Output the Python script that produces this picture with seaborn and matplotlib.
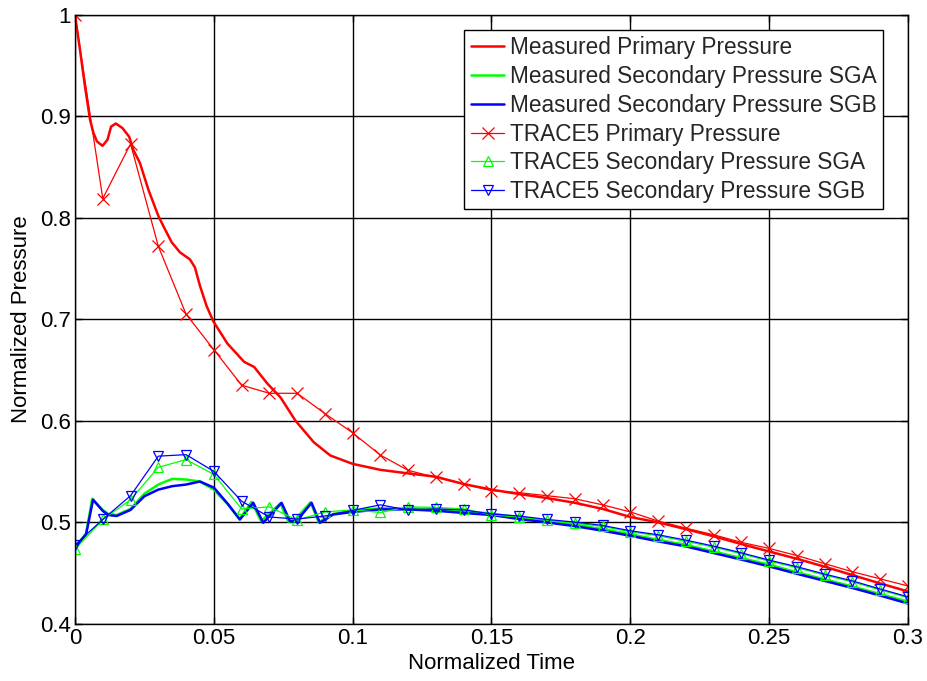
import numpy as np
import pandas as pd
import matplotlib
matplotlib.use("Agg")
import matplotlib.pyplot as plt
import seaborn as sns

# Measured primary pressure (continuous record)
meas_prim_t = [0, 0.0018, 0.0036, 0.0054, 0.0066, 0.0079, 0.0099, 0.0117, 0.013, 0.0147,
               0.0171, 0.0195, 0.021, 0.0234, 0.0264, 0.030, 0.0318, 0.0348, 0.0378, 0.0414,
               0.0432, 0.045, 0.0474, 0.0498, 0.0549, 0.0609, 0.0645, 0.0693, 0.0740, 0.0794,
               0.086, 0.092, 0.10, 0.11, 0.12, 0.13, 0.14, 0.15, 0.16, 0.17,
               0.18, 0.19, 0.20, 0.21, 0.22, 0.23, 0.24, 0.25, 0.26, 0.27,
               0.28, 0.29, 0.30]
meas_prim_p = [1.0, 0.9656, 0.9295, 0.897, 0.884, 0.8754, 0.871, 0.877, 0.890, 0.893,
               0.8885, 0.880, 0.867, 0.854, 0.828, 0.802, 0.792, 0.776, 0.766, 0.759,
               0.751, 0.733, 0.713, 0.698, 0.676, 0.658, 0.653, 0.6365, 0.623, 0.600,
               0.5787, 0.5656, 0.5574, 0.5515, 0.548, 0.5447, 0.5375, 0.532, 0.5276, 0.5237,
               0.519, 0.513, 0.505, 0.4997, 0.493, 0.486, 0.4783, 0.471, 0.4638, 0.456,
               0.4477, 0.4395, 0.4316]

# Measured secondary pressure, steam generator A
meas_sga_t = [0, 0.004, 0.0062, 0.01, 0.012, 0.015, 0.02, 0.025, 0.03, 0.035,
              0.04, 0.045, 0.05, 0.0522, 0.055, 0.0592, 0.0636, 0.0670, 0.0740, 0.0768,
              0.0790, 0.0848, 0.0878, 0.093, 0.10, 0.11, 0.12, 0.13, 0.14, 0.15,
              0.16, 0.17, 0.18, 0.19, 0.20, 0.21, 0.22, 0.23, 0.24, 0.25,
              0.26, 0.27, 0.28, 0.29, 0.30]
meas_sga_p = [0.474, 0.489, 0.523, 0.512, 0.508, 0.507, 0.513, 0.528, 0.537, 0.5426,
              0.542, 0.540, 0.532, 0.5255, 0.518, 0.5026, 0.520, 0.501, 0.5185, 0.5005,
              0.5015, 0.5195, 0.4998, 0.508, 0.5115, 0.5135, 0.5135, 0.5125, 0.5105, 0.5085,
              0.5045, 0.501, 0.4975, 0.493, 0.488, 0.4825, 0.4775, 0.471, 0.4645, 0.458,
              0.4505, 0.4435, 0.4365, 0.429, 0.4215]

# Measured secondary pressure, steam generator B
meas_sgb_t = [0, 0.004, 0.0065, 0.01, 0.012, 0.015, 0.02, 0.025, 0.03, 0.035,
              0.04, 0.045, 0.05, 0.0522, 0.055, 0.0594, 0.0642, 0.0678, 0.0744, 0.0774,
              0.0798, 0.0852, 0.0882, 0.093, 0.10, 0.11, 0.12, 0.13, 0.14, 0.15,
              0.16, 0.17, 0.18, 0.19, 0.20, 0.21, 0.22, 0.23, 0.24, 0.25,
              0.26, 0.27, 0.28, 0.29, 0.30]
meas_sgb_p = [0.475, 0.488, 0.522, 0.511, 0.507, 0.506, 0.512, 0.5255, 0.532, 0.5354,
              0.537, 0.540, 0.534, 0.527, 0.518, 0.5026, 0.519, 0.4993, 0.519, 0.501,
              0.501, 0.519, 0.4993, 0.5075, 0.510, 0.5125, 0.5125, 0.5112, 0.509, 0.507,
              0.503, 0.4997, 0.496, 0.4915, 0.4865, 0.481, 0.476, 0.4695, 0.463, 0.4563,
              0.449, 0.442, 0.435, 0.4275, 0.4197]

# TRACE5 results, output every 0.01
trace_t = [0.00, 0.01, 0.02, 0.03, 0.04, 0.05, 0.06, 0.07, 0.08, 0.09,
           0.10, 0.11, 0.12, 0.13, 0.14, 0.15, 0.16, 0.17, 0.18, 0.19,
           0.20, 0.21, 0.22, 0.23, 0.24, 0.25, 0.26, 0.27, 0.28, 0.29, 0.30]
trace_prim = [1.0, 0.819, 0.873, 0.772, 0.705, 0.670, 0.635, 0.627, 0.627, 0.607,
              0.588, 0.566, 0.551, 0.544, 0.5375, 0.531, 0.529, 0.526, 0.523, 0.517,
              0.510, 0.501, 0.494, 0.4875, 0.480, 0.474, 0.467, 0.459, 0.451, 0.444, 0.437]
trace_sga = [0.473, 0.5026, 0.522, 0.554, 0.5616, 0.547, 0.513, 0.515, 0.502, 0.510,
             0.512, 0.5095, 0.515, 0.5145, 0.513, 0.507, 0.505, 0.502, 0.499, 0.4957,
             0.4904, 0.4865, 0.481, 0.4753, 0.4687, 0.4615, 0.455, 0.4477, 0.441, 0.433, 0.4255]
trace_sgb = [0.4774, 0.5026, 0.526, 0.565, 0.5665, 0.550, 0.5206, 0.505, 0.503, 0.506,
             0.5115, 0.517, 0.5118, 0.513, 0.512, 0.508, 0.506, 0.5026, 0.500, 0.4967,
             0.4914, 0.4875, 0.4822, 0.4763, 0.4697, 0.4625, 0.456, 0.4487, 0.442, 0.434, 0.4263]

labels = ["Measured Primary Pressure",
          "Measured Secondary Pressure SGA",
          "Measured Secondary Pressure SGB",
          "TRACE5 Primary Pressure",
          "TRACE5 Secondary Pressure SGA",
          "TRACE5 Secondary Pressure SGB"]

sns.set_theme(style="white")
plt.rcParams["font.family"] = ["Liberation Sans", "DejaVu Sans"]
plt.rcParams["font.size"] = 16

fig = plt.figure(figsize=(9.28, 6.81), dpi=100)
ax = fig.add_axes([75 / 928, 1 - 623.5 / 681, (908 - 75) / 928, (623.5 - 15) / 681])

RED, GREEN, BLUE = (1, 0, 0), (0, 1, 0), (0, 0, 1)

measured = [(meas_prim_t, meas_prim_p, RED),
            (meas_sga_t, meas_sga_p, GREEN),
            (meas_sgb_t, meas_sgb_p, BLUE)]
for (t, p, c), lab in zip(measured, labels[:3]):
    df = pd.DataFrame({"t": t, "p": p})
    sns.lineplot(data=df, x="t", y="p", ax=ax, color=c, lw=1.8,
                 sort=False, estimator=None, label=lab)

simulated = [(trace_prim, RED, "x", 8), (trace_sga, GREEN, "^", 7), (trace_sgb, BLUE, "v", 7)]
for (p, c, m, ms), lab in zip(simulated, labels[3:]):
    df = pd.DataFrame({"t": trace_t, "p": p})
    sns.lineplot(data=df, x="t", y="p", ax=ax, color=c, lw=0.9,
                 marker=m, markersize=ms, markerfacecolor="none",
                 markeredgecolor=c, markeredgewidth=0.9,
                 sort=False, estimator=None, label=lab)

ax.set_xlim(0, 0.3)
ax.set_ylim(0.4, 1.0)
ax.set_xticks([0, 0.05, 0.1, 0.15, 0.2, 0.25, 0.3])
ax.set_xticklabels(["0", "0.05", "0.1", "0.15", "0.2", "0.25", "0.3"])
ax.set_yticks([0.4, 0.5, 0.6, 0.7, 0.8, 0.9, 1.0])
ax.set_yticklabels(["0.4", "0.5", "0.6", "0.7", "0.8", "0.9", "1"])
ax.grid(True, color="black", lw=1.0, ls="-")
ax.set_axisbelow(True)
for s in ax.spines.values():
    s.set_color("black")
    s.set_linewidth(1.0)
ax.tick_params(direction="in", length=5, width=1, colors="black", labelsize=16,
               top=True, right=True, bottom=True, left=True, pad=3)
ax.set_xlabel("Normalized Time", fontsize=16, labelpad=3, color="black")
ax.set_ylabel("Normalized Pressure", fontsize=16, labelpad=6, color="black")

leg = ax.legend(loc="upper right", bbox_to_anchor=(0.970, 0.975), fontsize=16.3,
                frameon=True, fancybox=False, framealpha=1, edgecolor="black",
                handlelength=1.5, handletextpad=0.25, labelspacing=0.255,
                borderpad=0.27, borderaxespad=0)
leg.get_frame().set_linewidth(1.0)

fig.savefig("out.png", dpi=100, facecolor="white")
